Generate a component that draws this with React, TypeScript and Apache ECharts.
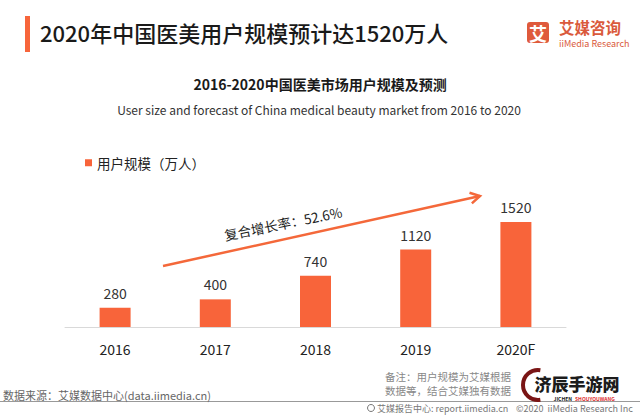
import React, { useEffect, useRef } from "react";
import * as echarts from "echarts";

const categories = ["2016", "2017", "2018", "2019", "2020F"];
const userScale = [280, 400, 740, 1120, 1520];
const seriesName = "用户规模（万人）";
const mainTitle = "2020年中国医美用户规模预计达1520万人";
const subTitleCn = "2016-2020中国医美市场用户规模及预测";
const subTitleEn = "User size and forecast of China medical beauty market from 2016 to 2020";
const cagrText = "复合增长率：52.6%";

const FONT = '"Noto Sans CJK SC", "Noto Sans", sans-serif';
const ORANGE = "#F8643A";

function t(text: string, x: number, y: number, size: number, fill: string, opts: any = {}) {
  return {
    type: "text",
    x,
    y,
    rotation: opts.rotation || 0,
    z: opts.z || 10,
    style: {
      text,
      fill,
      font: `${opts.weight || "normal"} ${size}px ${opts.family || FONT}`,
      align: opts.align || "left",
      verticalAlign: "middle",
      textAlign: opts.align || "left",
      textVerticalAlign: "middle",
    },
  };
}

export default function App() {
  const ref = useRef<HTMLDivElement>(null);
  useEffect(() => {
    document.body.style.margin = "0";
    const chart = echarts.init(ref.current!, null, { renderer: "svg" });

    // arrow annotation
    const sx = 163, sy = 266, ex = 480, ey = 196;
    const ang = Math.atan2(ey - sy, ex - sx);
    const hl = 11, ha = (30 * Math.PI) / 180;
    const h1 = [ex - hl * Math.cos(ang - ha), ey - hl * Math.sin(ang - ha)];
    const h2 = [ex - hl * Math.cos(ang + ha), ey - hl * Math.sin(ang + ha)];

    chart.setOption({
      animation: false,
      backgroundColor: "#ffffff",
      grid: { left: 65, right: 74, top: 188.8, bottom: 88 },
      legend: {
        left: 80,
        top: 151,
        icon: "rect",
        itemWidth: 7,
        itemHeight: 7,
        itemGap: 10,
        textStyle: { fontFamily: FONT, fontSize: 13.5, color: "#222" },
        data: [seriesName],
      },
      xAxis: {
        type: "category",
        data: categories,
        axisLine: { lineStyle: { color: "#d9d9d9", width: 1 } },
        axisTick: { show: false },
        axisLabel: { color: "#222", fontSize: 14, fontFamily: FONT, margin: 15 },
      },
      yAxis: {
        type: "value",
        min: 0,
        max: 2000,
        show: false,
        splitLine: { show: false },
      },
      series: [
        {
          name: seriesName,
          type: "bar",
          data: userScale,
          barWidth: 31,
          itemStyle: { color: ORANGE },
          label: {
            show: true,
            position: "top",
            distance: 8,
            color: "#333",
            fontSize: 14,
            fontFamily: FONT,
          },
        },
      ],
      graphic: [
        { type: "rect", shape: { x: 25, y: 16, width: 5, height: 36 }, style: { fill: "#F7653B" } },
        t(mainTitle, 40, 32, 22, "#1a1a1a", { weight: 500 }),
        // logo
        { type: "rect", shape: { x: 527, y: 22, width: 22, height: 21, r: 3 }, style: { fill: "#DF5A3C" } },
        t("艾", 538, 32.5, 18, "#ffffff", { align: "center", weight: "bold" }),
        t("艾媒咨询", 559, 27, 15.5, "#DA5A3C", { weight: "bold" }),
        t("iiMedia Research", 559, 43, 9, "#DA5A3C"),
        // subtitles
        t(subTitleCn, 320, 84, 14, "#1a1a1a", { align: "center", weight: "bold" }),
        t(subTitleEn, 319, 109, 12, "#333", { align: "center" }),
        // arrow
        { type: "line", shape: { x1: sx, y1: sy, x2: ex, y2: ey }, style: { stroke: "#F4683A", lineWidth: 2.5 } },
        {
          type: "polyline",
          shape: { points: [h1, [ex, ey], h2] },
          style: { stroke: "#F4683A", lineWidth: 2.5, fill: null },
        },
        t(cagrText, 283, 223, 13.5, "#222", { align: "center", rotation: (11.5 * Math.PI) / 180 }),
        // footer
        t("数据来源：艾媒数据中心(data.iimedia.cn)", 3, 395, 11, "#666"),
        { type: "line", shape: { x1: 0, y1: 401.5, x2: 640, y2: 401.5 }, style: { stroke: "#999", lineWidth: 1.2 } },
        t("备注：用户规模为艾媒根据", 385, 376.5, 10.5, "#888"),
        t("数据等，结合艾媒独有数据", 385, 390, 10.5, "#888"),
        { type: "circle", shape: { cx: 371, cy: 408, r: 3.5 }, style: { fill: "none", stroke: "#777", lineWidth: 1 } },
        t("艾媒报告中心: report.iimedia.cn", 377, 408.5, 9, "#777"),
        t("©2020  iiMedia Research Inc", 516, 408.5, 9, "#777"),
        // watermark
        { type: "rect", shape: { x: 515, y: 368, width: 117, height: 31 }, style: { fill: "#ffffff" }, z: 20 },
        {
          type: "arc",
          shape: { cx: 538, cy: 385, r: 15, startAngle: Math.PI * 0.45, endAngle: Math.PI * 1.55 },
          style: { stroke: "#7a1515", lineWidth: 4, fill: null },
          z: 21,
        },
        t("济辰手游网", 577, 383.5, 17, "#1c1c1c", { align: "center", weight: 900, z: 22 }),
        t("JICHEN", 572, 398.5, 5, "#111", { align: "right", weight: "bold", z: 22 }),
        t("SHOUYOUWANG", 575, 398.5, 5, "#e03030", { weight: "bold", z: 22 }),
      ],
    });
    return () => chart.dispose();
  }, []);
  return <div ref={ref} style={{ width: 640, height: 415 }} />;
}
